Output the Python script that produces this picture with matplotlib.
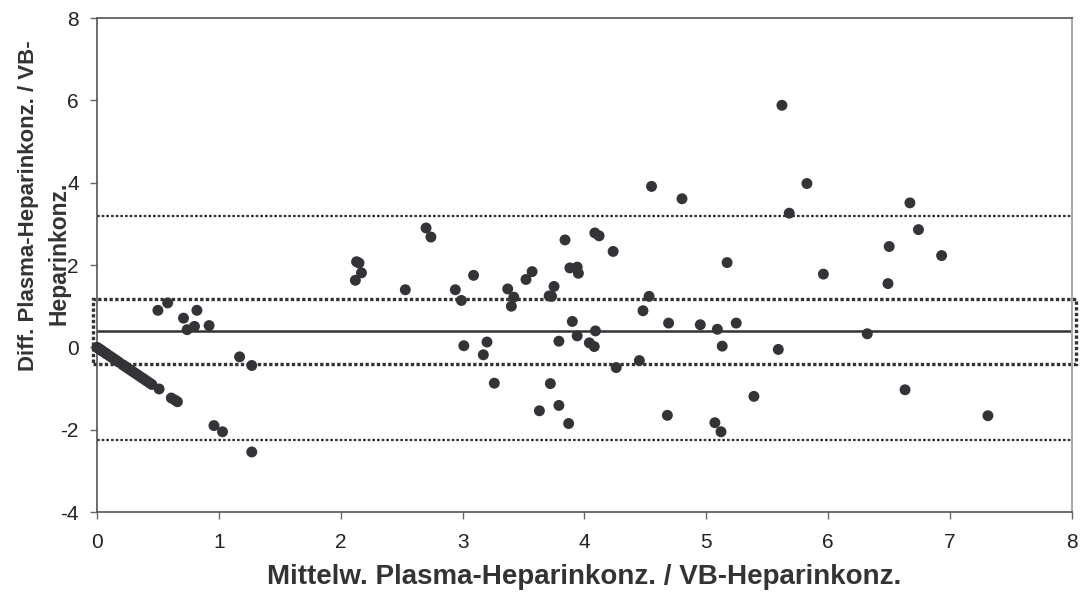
import numpy as np
import matplotlib
matplotlib.use("Agg")
import matplotlib.pyplot as plt
from matplotlib.patches import Rectangle

plt.rcParams['font.family'] = ['Liberation Sans', 'DejaVu Sans']
plt.rcParams['axes.unicode_minus'] = False

# Bland-Altman: mean of both methods (x) and difference (y)
# points with one value zero lie on the diagonal y = -2x
x_diag = [0.00, 0.01, 0.02, 0.03, 0.04, 0.05, 0.07, 0.08, 0.10, 0.12, 0.14,
          0.16, 0.18, 0.21, 0.23, 0.25, 0.27, 0.29, 0.31, 0.33, 0.35, 0.37,
          0.39, 0.41, 0.43, 0.45, 0.51, 0.61, 0.64, 0.66, 0.96, 1.03, 1.27]
y_diag = [0.00, -0.02, -0.04, -0.06, -0.08, -0.10, -0.14, -0.16, -0.20,
          -0.24, -0.28, -0.32, -0.36, -0.42, -0.46, -0.50, -0.54, -0.58,
          -0.62, -0.66, -0.70, -0.74, -0.78, -0.82, -0.86, -0.90, -1.01,
          -1.23, -1.28, -1.32, -1.90, -2.05, -2.54]

x_rest = [0.50, 0.58, 0.71, 0.82, 0.74, 0.80, 0.92, 1.17, 1.27,
          2.13, 2.15, 2.17, 2.12,
          2.53, 2.70, 2.74, 2.94, 2.99, 3.09, 3.01, 3.20, 3.17, 3.26, 3.37,
          3.42, 3.40, 3.52, 3.57, 3.75, 3.71, 3.73, 3.84, 3.88, 3.94, 3.95,
          3.90, 3.94, 3.79, 4.09, 4.04, 4.08, 4.085, 4.12, 4.235, 4.26, 4.45,
          4.48, 4.53, 4.55, 4.80, 4.69, 4.68, 3.72, 3.63, 3.79, 3.87,
          5.62, 5.825, 5.68, 6.67, 6.74, 6.50, 6.93, 5.17, 5.96, 6.49, 4.95,
          5.09, 5.245, 5.13, 5.59, 6.32, 5.39, 6.63, 5.07, 5.12, 7.31]
y_rest = [0.90, 1.08, 0.71, 0.90, 0.43, 0.51, 0.53, -0.23, -0.44,
          2.08, 2.05, 1.81, 1.63,
          1.40, 2.90, 2.68, 1.40, 1.14, 1.75, 0.04, 0.13, -0.18, -0.87, 1.42,
          1.22, 1.00, 1.65, 1.84, 1.48, 1.25, 1.24, 2.61, 1.93, 1.95, 1.80,
          0.63, 0.28, 0.15, 0.40, 0.11, 0.02, 2.78, 2.71, 2.33, -0.49, -0.32,
          0.89, 1.24, 3.91, 3.61, 0.59, -1.65, -0.88, -1.54, -1.41, -1.85,
          5.88, 3.98, 3.26, 3.51, 2.86, 2.45, 2.23, 2.06, 1.78, 1.55, 0.55,
          0.44, 0.59, 0.03, -0.05, 0.33, -1.19, -1.03, -1.83, -2.05, -1.66]

# mean difference, limits of agreement, confidence band of the mean
mean_diff = 0.39
loa_upper = 3.20
loa_lower = -2.24
ci_upper = 1.18
ci_lower = -0.41

x = np.array(x_diag + x_rest)
y = np.array(y_diag + y_rest)

fig = plt.figure(figsize=(10.81, 6.01), dpi=100)
ax = fig.add_axes([0.0897, 0.148, 0.902, 0.822])

dark = '#333333'
ax.plot([0, 8], [mean_diff, mean_diff], color=dark, lw=1.8, zorder=2)
for lv in [loa_upper, loa_lower]:
    ax.plot([0, 8], [lv, lv], color=dark, lw=1.6,
            linestyle=(0, (1.2, 0.9)), zorder=2)
rect = Rectangle((-0.03, ci_lower), 8.06, ci_upper - ci_lower, fill=False,
                 edgecolor=dark, lw=2.4, linestyle=(0, (1.0, 0.7)),
                 clip_on=False, zorder=2)
ax.add_patch(rect)

ax.scatter(x, y, s=62, color='#333338', edgecolors='none', zorder=3,
           clip_on=False)

ax.set_xlim(0, 8)
ax.set_ylim(-4, 8)
ax.set_xticks(range(0, 9))
ax.set_yticks(range(-4, 9, 2))
ax.tick_params(direction='out', length=5, width=1, colors='#666666',
               labelcolor='#222222', labelsize=15)
ax.tick_params(axis='x', pad=10)
ax.tick_params(axis='y', pad=8)

for side in ['left', 'bottom', 'top']:
    ax.spines[side].set_color('#555555')
    ax.spines[side].set_linewidth(1.2)
ax.spines['right'].set_color('#aaaaaa')
ax.spines['right'].set_linewidth(1.5)

ax.set_xlabel('Mittelw. Plasma-Heparinkonz. / VB-Heparinkonz.',
              fontsize=20, fontweight='bold', color='#333333', labelpad=9)
# y label wrapped in two lines, as in the original
fig.text(0.026, 0.657, 'Diff. Plasma-Heparinkonz. / VB-',
         rotation=90, ha='center', va='center',
         fontsize=16, fontweight='bold', color='#333333')
fig.text(0.0546, 0.579, 'Heparinkonz.',
         rotation=90, ha='center', va='center',
         fontsize=16.5, fontweight='bold', color='#333333')

fig.savefig('out.png', dpi=100)
